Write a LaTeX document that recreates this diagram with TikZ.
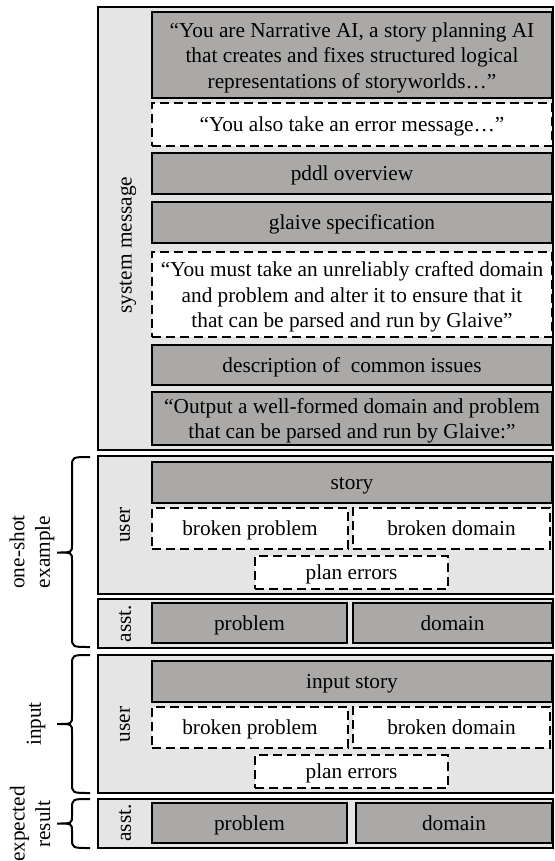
\documentclass[tikz,border=0pt]{standalone}
\usepackage{fontspec}
\setmainfont{Liberation Serif}
\definecolor{panelgray}{RGB}{229,229,229}
\definecolor{boxgray}{RGB}{170,169,168}
\newcommand\bracedraw[3]{\draw[bracestyle] (90,#1) .. controls (72,#1) .. (72,#1+10) -- (72,#2-8) .. controls (72,#2) .. (57,#2) .. controls (72,#2) .. (72,#2+8) -- (72,#3-10) .. controls (72,#3) .. (90,#3);}
\begin{document}
\begin{tikzpicture}[x=1pt,y=-1pt,
  every node/.style={font=\fontsize{21.3}{25.5}\selectfont, inner sep=0pt},
  panel/.style={draw, line width=2pt, fill=panelgray},
  graybox/.style={draw, line width=2.2pt, fill=boxgray},
  dashbox/.style={draw, line width=2.2pt, fill=white, dash pattern=on 9pt off 5pt},
  boxtext/.style={align=center, yshift=-2.5pt},
  oneline/.style={boxtext, text height=14.5pt, text depth=4.7pt},
  sidelbl/.style={rotate=90, align=center},
  bracestyle/.style={line width=2pt}]
\clip (0,0) rectangle (554,861);
\fill[white] (0,0) rectangle (554,861);

% panels
\node[panel, minimum width=455pt, minimum height=443pt] (sysp) at (325.5,228.5) {};
\node[panel, minimum width=455pt, minimum height=138pt] (ex1u) at (325.5,525) {};
\node[panel, minimum width=455pt, minimum height=49pt] (ex1a) at (325.5,623.5) {};
\node[panel, minimum width=455pt, minimum height=138pt] (inu) at (325.5,724) {};
\node[panel, minimum width=455pt, minimum height=49pt] (ina) at (325.5,823.5) {};

% panel labels
\node[sidelbl] (lsys) at (128,245) {system message};
\node[sidelbl] (lu1) at (125,525) {user};
\node[sidelbl] (la1) at (125,623.5) {asst.};
\node[sidelbl] (lu2) at (125,724.5) {user};
\node[sidelbl] (la2) at (125,823) {asst.};

% system message boxes
\node[graybox, minimum width=400pt, minimum height=86pt] (s1) at (352,55) {};
\node[boxtext] (s1t) at (s1.center) {“You are Narrative AI, a story planning AI\\that creates and fixes structured logical\\representations of storyworlds…”};
\node[dashbox, minimum width=400pt, minimum height=43pt] (s2) at (352,124.5) {};
\node[oneline] (s2t) at (s2.center) {“You also take an error message…”};
\node[graybox, minimum width=400pt, minimum height=41pt] (s3) at (352,173.5) {};
\node[oneline] (s3t) at (s3.center) {pddl overview};
\node[graybox, minimum width=400pt, minimum height=41pt] (s4) at (352,222.5) {};
\node[oneline] (s4t) at (s4.center) {glaive specification};
\node[dashbox, minimum width=400pt, minimum height=85pt] (s5) at (352,294.5) {};
\node[boxtext] (s5t) at (s5.center) {“You must take an unreliably crafted domain\\and problem and alter it to ensure that it\\that can be parsed and run by Glaive”};
\node[graybox, minimum width=400pt, minimum height=40pt] (s6) at (352,365) {};
\node[oneline] (s6t) at (s6.center) {description of~ common issues};
\node[graybox, minimum width=400pt, minimum height=53pt] (s7) at (352,418.5) {};
\node[boxtext] (s7t) at (s7.center) {“Output a well-formed domain and problem\\that can be parsed and run by Glaive:”};

% one-shot example
\node[graybox, minimum width=400pt, minimum height=41pt] (st1) at (352,482.5) {};
\node[oneline] (st1t) at (st1.center) {story};
\node[dashbox, minimum width=196pt, minimum height=41pt] (bp1) at (250,528.5) {};
\node[oneline] (bp1t) at (bp1.center) {broken problem};
\node[dashbox, minimum width=197pt, minimum height=41pt] (bd1) at (451.5,528.5) {};
\node[oneline] (bd1t) at (bd1.center) {broken domain};
\node[dashbox, minimum width=193pt, minimum height=33pt] (pe1) at (351.5,572.5) {};
\node[oneline] (pe1t) at (pe1.center) {plan errors};
\node[graybox, minimum width=195pt, minimum height=40pt] (p1) at (249.5,623) {};
\node[oneline] (p1t) at (p1.center) {problem};
\node[graybox, minimum width=199pt, minimum height=40pt] (d1) at (452.5,623) {};
\node[oneline] (d1t) at (d1.center) {domain};

% input
\node[graybox, minimum width=400pt, minimum height=41pt] (st2) at (352,681.5) {};
\node[oneline] (st2t) at (st2.center) {input story};
\node[dashbox, minimum width=196pt, minimum height=41pt] (bp2) at (250,727.5) {};
\node[oneline] (bp2t) at (bp2.center) {broken problem};
\node[dashbox, minimum width=197pt, minimum height=41pt] (bd2) at (451.5,727.5) {};
\node[oneline] (bd2t) at (bd2.center) {broken domain};
\node[dashbox, minimum width=193pt, minimum height=33pt] (pe2) at (351.5,771.5) {};
\node[oneline] (pe2t) at (pe2.center) {plan errors};
\node[graybox, minimum width=195pt, minimum height=40pt] (p2) at (249.5,823) {};
\node[oneline] (p2t) at (p2.center) {problem};
\node[graybox, minimum width=196pt, minimum height=40pt] (d2) at (454,823) {};
\node[oneline] (d2t) at (d2.center) {domain};

% braces and group labels
\bracedraw{457}{552.5}{647}
\bracedraw{655}{724}{793}
\bracedraw{799}{823.5}{848}
\node[sidelbl] (g1) at (32,552) {one-shot\\example};
\node[sidelbl] (g2) at (36,724) {input};
\node[sidelbl] (g3) at (30,824) {expected\\result};
\end{tikzpicture}
\end{document}
